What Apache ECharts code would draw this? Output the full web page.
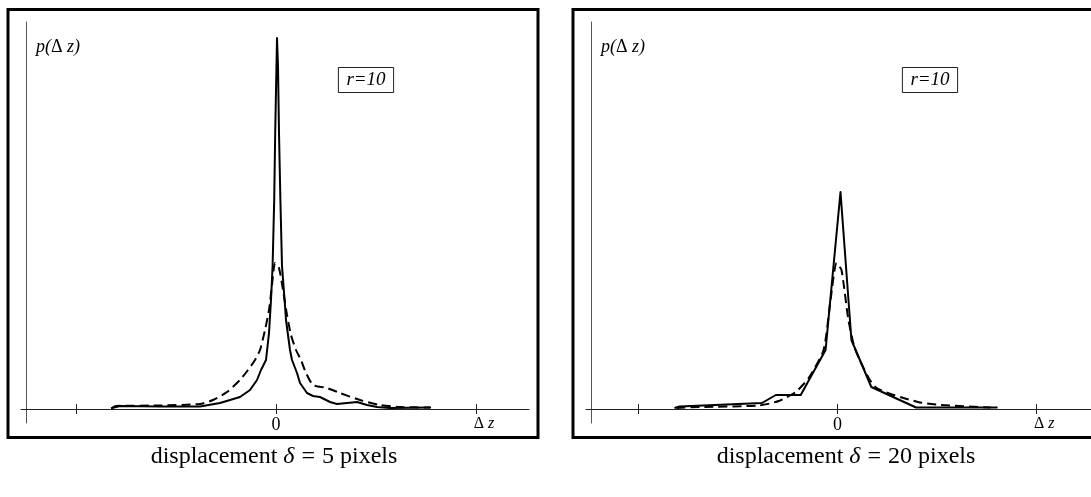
<!DOCTYPE html>
<html>
<head>
<meta charset="utf-8">
<script src="https://cdn.jsdelivr.net/npm/echarts@6/dist/echarts.min.js"></script>
<style>
  html, body { margin: 0; padding: 0; background: #fff; }
  #chart { width: 1091px; height: 497px; }
</style>
</head>
<body>
<div id="chart"></div>
<script>
// [dz, p(dz)] pairs, dz in tick units, p in plot units
var solid5 = [
  [-0.825, 0.007], [-0.78, 0.03], [-0.58, 0.025], [-0.38, 0.025], [-0.28, 0.06],
  [-0.18, 0.12], [-0.13, 0.19], [-0.095, 0.29], [-0.075, 0.39], [-0.05, 0.49],
  [-0.035, 0.76], [-0.025, 1.09], [-0.017, 1.43], [-0.009, 2.09], [-0.004, 2.76],
  [0.005, 3.71], [0.01, 3.43], [0.015, 2.76], [0.022, 2.09], [0.03, 1.43],
  [0.043, 1.09], [0.05, 0.89], [0.07, 0.59], [0.08, 0.49], [0.105, 0.36],
  [0.12, 0.26], [0.155, 0.16], [0.185, 0.13], [0.22, 0.12], [0.27, 0.07],
  [0.305, 0.05], [0.355, 0.06], [0.405, 0.07], [0.455, 0.04], [0.505, 0.02],
  [0.57, 0.01], [0.775, 0.015]
];
var dashed5 = [
  [-0.82, 0.01], [-0.8, 0.03], [-0.58, 0.035], [-0.38, 0.05], [-0.315, 0.09],
  [-0.245, 0.17], [-0.18, 0.29], [-0.14, 0.39], [-0.105, 0.49], [-0.08, 0.59],
  [-0.055, 0.79], [-0.035, 0.99], [-0.02, 1.24], [-0.005, 1.46], [0.015, 1.41],
  [0.035, 1.19], [0.055, 0.94], [0.075, 0.74], [0.1, 0.59], [0.125, 0.49],
  [0.15, 0.36], [0.185, 0.24], [0.255, 0.21], [0.32, 0.16], [0.42, 0.09],
  [0.52, 0.04], [0.62, 0.02], [0.77, 0.015]
];
var solid20 = [
  [-0.82, 0.01], [-0.795, 0.025], [-0.38, 0.06], [-0.31, 0.14], [-0.185, 0.14],
  [-0.06, 0.59], [0.015, 2.17], [0.07, 0.69], [0.17, 0.22], [0.395, 0.015],
  [0.805, 0.015]
];
var dashed20 = [
  [-0.81, 0.01], [-0.695, 0.02], [-0.395, 0.035], [-0.295, 0.08], [-0.21, 0.17],
  [-0.145, 0.31], [-0.07, 0.59], [-0.035, 1.09], [-0.005, 1.46], [0.02, 1.39],
  [0.055, 0.89], [0.09, 0.59], [0.19, 0.22], [0.405, 0.07], [0.52, 0.04],
  [0.77, 0.015]
];
var tickValues = [-1, 0, 1];
var labelValues = [0, 1];
var panelLabel = 'r=10';
var shifts = ['5', '20'];

var serif = "'Liberation Serif', 'DejaVu Serif', serif";

function makeX(gi, min, max) {
  return [{
    type: 'value', gridIndex: gi, min: min, max: max,
    position: 'bottom', offset: -14,
    axisLine: { onZero: false, lineStyle: { color: '#222', width: 1 } },
    splitLine: { show: false },
    axisTick: { customValues: tickValues, length: 5, lineStyle: { color: '#222' } },
    axisLabel: {
      customValues: labelValues, margin: 7, color: '#000', fontFamily: serif,
      formatter: function (v) { return v === 0 ? '{n|0}' : '{sp| }{d|Δ}{z| z}'; },
      rich: {
        n: { fontSize: 18, fontFamily: serif, color: '#000' },
        sp: { width: 16 },
        d: { fontSize: 16, fontFamily: serif, color: '#000' },
        z: { fontSize: 16, fontFamily: serif, fontStyle: 'italic', color: '#000' }
      }
    }
  }, {
    type: 'value', gridIndex: gi, min: min, max: max,
    position: 'bottom', offset: -14,
    axisLine: { show: false },
    splitLine: { show: false },
    axisTick: { customValues: tickValues, inside: true, length: 5, lineStyle: { color: '#222' } },
    axisLabel: { show: false }
  }];
}

function makeY(gi) {
  return {
    type: 'value', gridIndex: gi, min: -0.14, max: 3.87, offset: -5,
    axisLine: { show: true, onZero: false, lineStyle: { color: '#555', width: 1 } },
    axisTick: { show: false }, axisLabel: { show: false }, splitLine: { show: false }
  };
}

function line(xi, yi, data, dashed, smooth) {
  return {
    type: 'line', xAxisIndex: xi, yAxisIndex: yi, data: data,
    showSymbol: false, smooth: smooth,
    lineStyle: { color: '#000', width: 2, type: dashed ? [9, 5] : 'solid', join: 'round' }
  };
}

var graphics = [];
[0, 565].forEach(function (dx, i) {
  graphics.push({
    type: 'rect', shape: { x: 8 + dx, y: 9.5, width: 530, height: 428 },
    style: { fill: null, stroke: '#000', lineWidth: 3 }
  });
  graphics.push({
    type: 'text', x: 36 + dx, y: 47,
    style: {
      text: '{i|p(}{n|Δ}{i| z)}', verticalAlign: 'middle',
      rich: {
        i: { fontSize: 18, fontFamily: serif, fontStyle: 'italic', fill: '#000' },
        n: { fontSize: 18, fontFamily: serif, fill: '#000' }
      }
    }
  });
  graphics.push({
    type: 'text', x: 366 + dx - (i ? 1 : 0), y: 80,
    style: {
      text: panelLabel, align: 'center', verticalAlign: 'middle',
      font: 'italic 19px ' + serif, fill: '#000',
      padding: [3, 8, 3, 8], borderColor: '#222', borderWidth: 1
    }
  });
  graphics.push({
    type: 'text', x: (i ? 846 : 274), y: 457,
    style: {
      text: '{r|displacement }{m|δ}{e|=}{r|' + shifts[i] + ' pixels}',
      align: 'center', verticalAlign: 'middle',
      rich: {
        r: { fontSize: 24, fontFamily: serif, fill: '#000' },
        m: { fontSize: 24, fontFamily: serif, fontStyle: 'italic', fill: '#000' },
        e: { fontSize: 24, fontFamily: serif, fill: '#000', padding: [0, 7, 0, 7] }
      }
    }
  });
});

var chart = echarts.init(document.getElementById('chart'));
chart.setOption({
  animation: false,
  backgroundColor: '#fff',
  grid: [
    { left: 21, top: 22, width: 508, height: 401 },
    { left: 586, top: 22, width: 508, height: 401 }
  ],
  xAxis: makeX(0, -1.275, 1.265).concat(makeX(1, -1.265, 1.275)),
  yAxis: [makeY(0), makeY(1)],
  series: [
    line(0, 0, dashed5, true, 0.2),
    line(0, 0, solid5, false, false),
    line(2, 1, dashed20, true, 0.2),
    line(2, 1, solid20, false, false)
  ],
  graphic: graphics
});
</script>
</body>
</html>
